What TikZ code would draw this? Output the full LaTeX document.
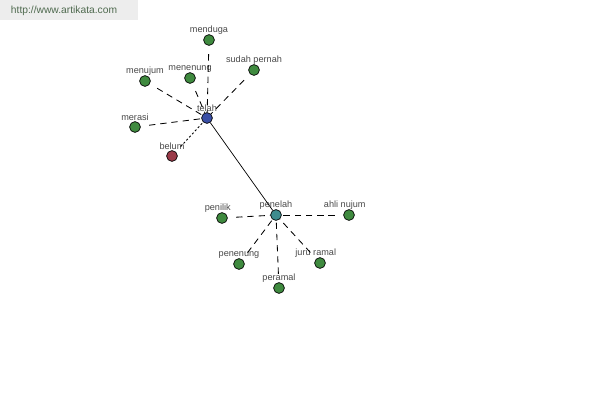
\documentclass[tikz,border=0pt]{standalone}
\usepackage{fontspec}
\setmainfont{Liberation Sans}
\usetikzlibrary{positioning}
\definecolor{WordGreen}{HTML}{3F8A3F}
\definecolor{HubBlue}{HTML}{3A4FA6}
\definecolor{HubTeal}{HTML}{3E8C8E}
\definecolor{WordRed}{HTML}{9A3A48}
\definecolor{LabelGray}{HTML}{484848}
\definecolor{MarkGray}{HTML}{EDEDED}
\definecolor{MarkText}{HTML}{4F6A4F}

\begin{document}
\begin{tikzpicture}[
  x=0.025cm, y=-0.025cm,
  word/.style={
    circle,
    draw=black,
    line width=0.5pt,
    fill=WordGreen,
    minimum size=0.27cm,
    inner sep=0pt
  },
  lbl/.style={
    font=\fontsize{6.5}{7}\selectfont,
    text=LabelGray,
    inner sep=1pt,
    label distance=-1pt
  },
  link/.style={
    draw=black,
    line width=0.6pt,
    dash pattern=on 4.5pt off 3.5pt,
    shorten <=6pt
  },
  weak/.style={
    draw=black,
    line width=0.6pt,
    dash pattern=on 1.5pt off 1.5pt,
    shorten <=5pt
  },
  tie/.style={
    draw=black,
    line width=0.5pt
  }
]

\useasboundingbox (0,0) rectangle (600,400);

% Watermark
\fill[MarkGray] (0,0) rectangle (138,20);
\node[font=\fontsize{7.3}{8}\selectfont, text=MarkText, anchor=west]
  (mark) at (6,11) {http://www.artikata.com};

% Hubs
\node[word, fill=HubBlue, label={[lbl]above:telah}] (telah) at (207,118) {};
\node[word, fill=HubTeal, label={[lbl]above:penelah}] (penelah) at (276,215) {};

% Around telah
\node[word, label={[lbl]above:menduga}] (menduga) at (209,40) {};
\node[word, label={[lbl]above:sudah pernah}] (sudah) at (254,70) {};
\node[word, label={[lbl]above:menenung}] (menenung) at (190,78) {};
\node[word, label={[lbl]above:menujum}] (menujum) at (145,81) {};
\node[word, label={[lbl]above:merasi}] (merasi) at (135,127) {};
\node[word, fill=WordRed, label={[lbl]above:belum}] (belum) at (172,156) {};

% Around penelah
\node[word, label={[lbl,xshift=-3pt]above:penilik}] (penilik) at (222,218) {};
\node[word, label={[lbl,xshift=-3pt]above:ahli nujum}] (ahli) at (349,215) {};
\node[word, label={[lbl]above:penenung}] (penenung) at (239,264) {};
\node[word, label={[lbl,xshift=-3pt]above:juru ramal}] (juru) at (320,263) {};
\node[word, label={[lbl]above:peramal}] (peramal) at (279,288) {};

% Connections
\draw[tie] (telah) -- (penelah);
\draw[link] (menduga) -- (telah);
\draw[link] (sudah) -- (telah);
\draw[link] (menenung) -- (telah);
\draw[link] (menujum) -- (telah);
\draw[link] (merasi) -- (telah);
\draw[weak] (belum) -- (telah);
\draw[link] (penilik) -- (penelah);
\draw[link] (ahli) -- (penelah);
\draw[link] (penenung) -- (penelah);
\draw[link] (juru) -- (penelah);
\draw[link] (peramal) -- (penelah);

\end{tikzpicture}
\end{document}
